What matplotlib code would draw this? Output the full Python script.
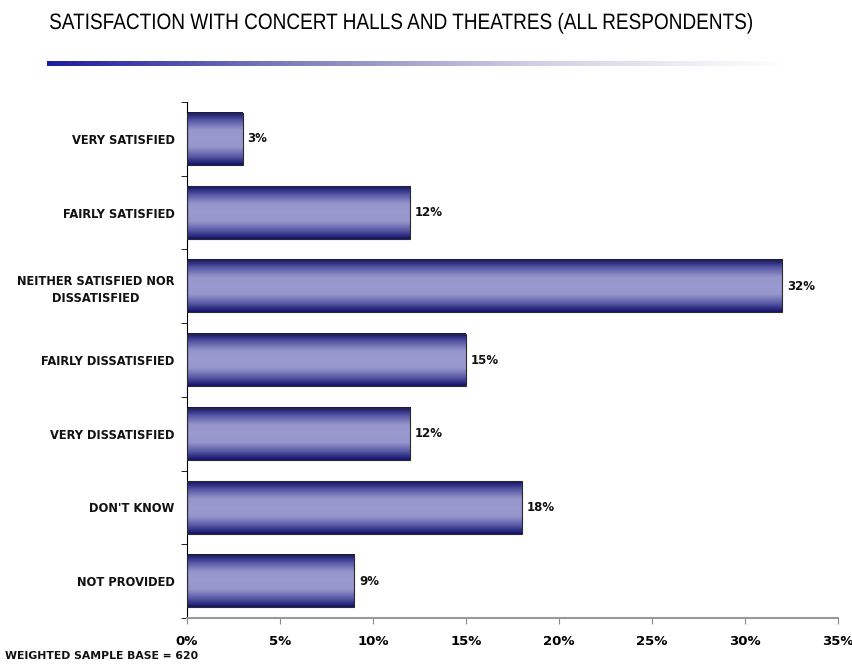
import numpy as np
import matplotlib.pyplot as plt
from matplotlib.colors import LinearSegmentedColormap
from matplotlib.textpath import TextPath
from matplotlib.patches import PathPatch
from matplotlib.font_manager import FontProperties
from matplotlib.transforms import Affine2D

categories = ['VERY SATISFIED', 'FAIRLY SATISFIED', 'NEITHER SATISFIED NOR\nDISSATISFIED',
              'FAIRLY DISSATISFIED', 'VERY DISSATISFIED', "DON'T KNOW", 'NOT PROVIDED']
values = [3, 12, 32, 15, 12, 18, 9]
xticks = [0, 5, 10, 15, 20, 25, 30, 35]
title = 'SATISFACTION WITH CONCERT HALLS AND THEATRES (ALL RESPONDENTS)'

W, H = 852, 664
plt.rcParams['font.family'] = ['DejaVu Sans']

fig = plt.figure(figsize=(W / 100, H / 100), dpi=100)
ax = fig.add_axes([187 / W, 1 - 618 / H, (838 - 187) / W, (618 - 102) / H])

y = np.arange(len(categories))
bars = ax.barh(y, values, height=0.71, color='none', edgecolor='none', zorder=2)

# vertical shading: dark navy edges, pale lavender middle
shade = LinearSegmentedColormap.from_list(
    'shade', ['#10106a', '#5a5aa6', '#9696cc', '#9a9ad0', '#9696cc', '#5a5aa6', '#10106a'])
grad = np.linspace(0, 1, 256).reshape(-1, 1)
for b, v in zip(bars, values):
    x0, y0 = b.get_x(), b.get_y()
    w, h = b.get_width(), b.get_height()
    ax.imshow(grad, cmap=shade, aspect='auto', extent=(x0, x0 + w, y0, y0 + h),
              origin='lower', zorder=2, interpolation='bicubic')
    ax.add_patch(plt.Rectangle((x0, y0), w, h, fill=False, edgecolor='#2a2a2a', lw=0.8, zorder=3))
    ax.text(v + 0.25, y0 + h / 2, f'{v}%', va='center', ha='left', fontsize=8.5, fontweight='bold',
            color='#111111')

ax.set_xlim(0, 35)
ax.set_ylim(len(categories) - 0.5, -0.5)
ax.set_xticks(xticks)
ax.set_xticklabels([f'{t}%' for t in xticks], fontsize=9.5, fontweight='bold')
ax.tick_params(axis='x', length=4, color='#888888', pad=8)
ax.set_yticks(y)
ax.set_yticklabels(categories, fontsize=8.3, fontweight='bold', linespacing=1.4, color='#111111')
ax.set_yticks(np.arange(len(categories) + 1) - 0.5, minor=True)
ax.tick_params(axis='y', which='major', length=0, pad=9)
ax.tick_params(axis='y', which='minor', length=4, color='black')
for lab in ax.get_yticklabels():
    lab.set_horizontalalignment('right')
    lab.set_multialignment('center')

ax.spines['top'].set_visible(False)
ax.spines['right'].set_visible(False)
ax.spines['bottom'].set_color('#999999')
ax.spines['bottom'].set_linewidth(1.5)
ax.spines['left'].set_color('black')

# heading drawn as a squeezed outline so it reads as a condensed face
tp = TextPath((0, 0), title, size=22.3, prop=FontProperties(family='Liberation Sans'))
bb = tp.get_extents()
sx = (752 - 50) / bb.width
tr = Affine2D().translate(-bb.x0, 0).scale(sx, 1).translate(50, H - 29)
fig.patches.append(PathPatch(tp, transform=tr, facecolor='black', edgecolor='none'))

rule = fig.add_axes([47 / W, 1 - 66 / H, (785 - 47) / W, 5 / H])
rule.imshow(np.linspace(0, 1, 256).reshape(1, -1), aspect='auto',
            cmap=LinearSegmentedColormap.from_list('rule', ['#1c1ca0', '#8080bc', '#d0d0e6', '#ffffff']))
rule.axis('off')

fig.text(5 / W, 1 - 656 / H, 'WEIGHTED SAMPLE BASE = 620', fontsize=7.8, fontweight='bold',
         va='center', ha='left', color='#111111')

fig.savefig('out.png', dpi=100)
